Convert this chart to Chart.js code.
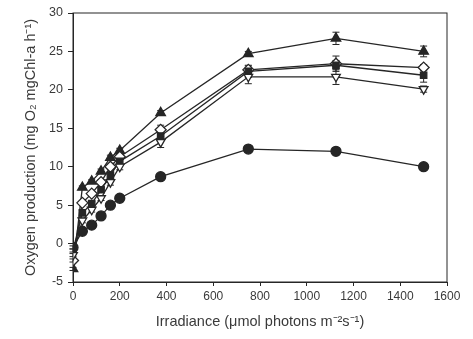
<!DOCTYPE html>
<html>
<head>
<meta charset="utf-8">
<script src="https://cdn.jsdelivr.net/npm/chart.js@4/dist/chart.umd.min.js"></script>
<style>
  html, body { margin: 0; padding: 0; background: #fff; }
  #wrap { width: 473px; height: 339px; }
</style>
</head>
<body>
<div id="wrap"><canvas id="chart"></canvas></div>
<script>
// light response curves, five treatments
let irradiance = [0, 40, 80, 120, 160, 200, 375, 750, 1125, 1500];
let triUp   = [-3.3, 7.3, 8.1, 9.4, 11.2, 12.1, 17.0, 24.7, 26.7, 25.0];
let diamond = [-2.2, 5.3, 6.5, 8.0, 10.0, 11.3, 14.8, 22.6, 23.4, 22.9];
let square  = [-0.9, 4.0, 5.2, 7.0, 8.9, 10.7, 14.0, 22.4, 23.2, 21.9];
let triDown = [-1.5, 3.0, 4.4, 5.9, 8.0, 10.0, 13.2, 21.7, 21.7, 20.1];
let circle  = [-0.5, 1.6, 2.4, 3.6, 5.0, 5.9, 8.7, 12.3, 12.0, 10.0];

// standard errors
let triUpErr   = [0.2, 0.2, 0.2, 0.3, 0.3, 0.3, 0.3, 0.3, 0.8, 0.7];
let diamondErr = [0.2, 0.2, 0.3, 0.3, 0.3, 0.4, 0.6, 0.5, 1.0, 0.4];
let squareErr  = [0.2, 0.3, 0.3, 0.3, 0.4, 0.4, 0.5, 0.8, 0.6, 0.9];
let triDownErr = [0.2, 0.3, 0.3, 0.3, 0.4, 0.4, 0.7, 0.9, 1.0, 0.4];
let circleErr  = [0.2, 0.2, 0.2, 0.2, 0.2, 0.2, 0.3, 0.3, 0.3, 0.3];

let xTicks = [0, 200, 400, 600, 800, 1000, 1200, 1400, 1600];
let yTicks = [-5, 0, 5, 10, 15, 20, 25, 30];

let ink = '#262626';
let textInk = '#3a3a3a';
let font = '"Liberation Sans", Arial, sans-serif';

function pts(ys) {
    return irradiance.map((x, i) => ({x: x, y: ys[i]}));
}

function series(label, ys, errs, style, fill, radius, rot) {
    return {
        label: label,
        data: pts(ys),
        errors: errs,
        borderColor: ink,
        borderWidth: 1.3,
        pointStyle: style,
        pointRadius: radius,
        pointRotation: rot || 0,
        pointBackgroundColor: fill,
        pointBorderColor: ink,
        pointBorderWidth: 1.3,
        tension: 0
    };
}

// vertical error bars with caps, under the markers
let errorBars = {
    id: 'errorBars',
    beforeDatasetsDraw(chart) {
        let c = chart.ctx, xs = chart.scales.x, ys = chart.scales.y;
        c.save();
        c.strokeStyle = ink;
        c.lineWidth = 1;
        chart.data.datasets.forEach(ds => {
            ds.data.forEach((p, i) => {
                let e = ds.errors[i];
                let px = xs.getPixelForValue(p.x);
                let top = ys.getPixelForValue(p.y + e);
                let bot = ys.getPixelForValue(p.y - e);
                c.beginPath();
                c.moveTo(px, top); c.lineTo(px, bot);
                c.moveTo(px - 3.5, top); c.lineTo(px + 3.5, top);
                c.moveTo(px - 3.5, bot); c.lineTo(px + 3.5, bot);
                c.stroke();
            });
        });
        c.restore();
    }
};

// closed box around the plot area
let frame = {
    id: 'frame',
    afterDraw(chart) {
        let a = chart.chartArea, c = chart.ctx;
        c.save();
        c.strokeStyle = ink;
        c.lineWidth = 1;
        c.strokeRect(a.left, a.top, a.right - a.left, a.bottom - a.top);
        c.restore();
    }
};

new Chart(document.getElementById('chart'), {
    type: 'line',
    data: {
        datasets: [
            series('circle', circle, circleErr, 'circle', ink, 5),
            series('triangle down', triDown, triDownErr, 'triangle', '#fff', 5, 180),
            series('square', square, squareErr, 'rect', ink, 4.5),
            series('diamond', diamond, diamondErr, 'rectRot', '#fff', 5.5),
            series('triangle up', triUp, triUpErr, 'triangle', ink, 5.5)
        ]
    },
    options: {
        responsive: true,
        maintainAspectRatio: false,
        animation: false,
        layout: {padding: {top: 13, right: 26, bottom: 8, left: 20}},
        plugins: {legend: {display: false}, tooltip: {enabled: false}},
        scales: {
            x: {
                type: 'linear',
                min: 0, max: 1600,
                afterBuildTicks: s => { s.ticks = xTicks.map(v => ({value: v})); },
                afterFit: s => { s.height = 49; },
                grid: {drawOnChartArea: false, drawTicks: true, tickLength: 4, color: ink},
                border: {display: true, color: ink, width: 1},
                ticks: {color: textInk, font: {family: font, size: 12}, padding: 3, maxRotation: 0,
                        callback: v => String(v)},
                title: {
                    display: true,
                    text: 'Irradiance (\u03bcmol photons m\u207b\u00b2s\u207b\u00b9)',
                    color: textInk,
                    font: {family: font, size: 14.5},
                    padding: {top: 4, bottom: 0}
                }
            },
            y: {
                min: -5, max: 30,
                afterBuildTicks: s => { s.ticks = yTicks.map(v => ({value: v})); },
                afterFit: s => { s.width = 53; },
                grid: {drawOnChartArea: false, drawTicks: true, tickLength: 5, color: ink},
                border: {display: true, color: ink, width: 1},
                ticks: {color: textInk, font: {family: font, size: 12.5}, padding: 5,
                        callback: v => String(v)},
                title: {
                    display: true,
                    text: 'Oxygen production (mg O\u2082 mgChl-a h\u207b\u00b9)',
                    color: textInk,
                    font: {family: font, size: 14.5},
                    padding: {top: 2, bottom: 2}
                }
            }
        }
    },
    plugins: [errorBars, frame]
});
</script>
</body>
</html>
